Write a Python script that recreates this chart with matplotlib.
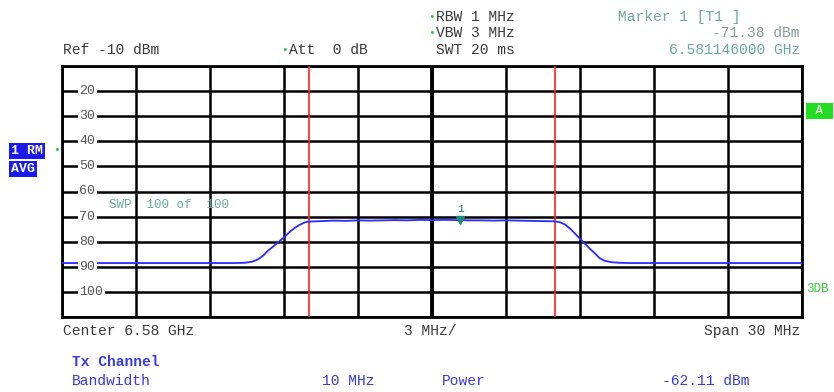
import matplotlib
matplotlib.use("Agg")
import matplotlib.pyplot as plt
import numpy as np

# ---- data ----
freq_offset_mhz = [-15, -8.0, -7.6, -7.3, -7.05, -6.85, -6.65, -6.4, -6.16, -5.95, -5.76, -5.55, -5.35, -5.15, -5.03,
                   -4.5, -4.0, -3.5, -3.0, -2.5, -2.0, -1.5, -1.0, -0.5, 0.0, 0.5, 1.0, 1.146, 1.5, 2.0, 2.5, 3.0,
                   3.5, 4.0, 4.5, 5.0, 5.2, 5.4, 5.6, 5.8, 6.0, 6.2, 6.4, 6.6, 6.8, 7.0, 7.3, 7.6, 8.0, 15]
level_dbm = [-88.5, -88.5, -88.4, -88.0, -87.0, -85.6, -83.6, -81.6, -79.6, -77.8, -76.0, -74.4, -73.2, -72.3, -72.0,
             -71.8, -71.6, -71.7, -71.5, -71.6, -71.5, -71.4, -71.5, -71.3, -71.4, -71.3, -71.4, -71.38, -71.5, -71.5, -71.6, -71.5,
             -71.6, -71.7, -71.8, -71.9, -72.3, -73.2, -74.8, -76.8, -78.8, -80.8, -82.8, -84.6, -86.6, -87.6, -88.2, -88.4, -88.5, -88.5]
marker_freq = 1.146
marker_level = -71.38
channel_edges = [-5.0, 5.0]
y_ticks = [-20, -30, -40, -50, -60, -70, -80, -90, -100]

W, H = 834, 392
fig = plt.figure(figsize=(W / 100, H / 100), dpi=100)
fig.patch.set_facecolor("white")

L, R, T, B = 62, 802, 66, 317
ax = fig.add_axes([L / W, 1 - B / H, (R - L) / W, (B - T) / H])
ax.set_xlim(-15, 15)
ax.set_ylim(-110, -10)
ax.set_xticks(np.arange(-15, 16, 3))
ax.set_yticks(np.arange(-110, -9, 10))
ax.grid(True, color="black", linewidth=1.8)
ax.tick_params(length=0, labelbottom=False, labelleft=False)
for s in ax.spines.values():
    s.set_linewidth(2)
    s.set_color("black")
ax.axvline(0, color="black", linewidth=2.8)

for e in channel_edges:
    ax.axvline(e, color="#ff2020", linewidth=1.2, zorder=3)

ax.plot(freq_offset_mhz, level_dbm, color="#2a2aff", linewidth=1.3, zorder=4)
ax.plot([marker_freq], [marker_level], marker="v", color="#1f8a78", markersize=6, zorder=5)
ax.text(marker_freq, marker_level + 2.5, "1", color="#2a6a60", fontsize=8, ha="center", va="bottom",
        family="Liberation Mono", zorder=5)

# tick labels: the grid line stub on the left acts as the minus sign
for v in y_ticks:
    ax.text(-14.3, v, str(abs(v)), fontsize=9.5, family="Liberation Mono", color="#555555",
            ha="left", va="center", zorder=5,
            bbox=dict(facecolor="white", edgecolor="none", pad=1.2))

ax.text(-13.1, -65.3, "SWP  100 of  100", fontsize=9, family="Liberation Mono", color="#6aac9e",
        ha="left", va="center", zorder=5)

mono = "Liberation Mono"
def t(x, y, s, **kw):
    kw.setdefault("fontsize", 10.5)
    kw.setdefault("family", mono)
    kw.setdefault("color", "#3a3a3a")
    kw.setdefault("va", "center")
    fig.text(x / W, 1 - y / H, s, **kw)

t(63, 50, "Ref -10 dBm")
t(281, 50, "•", color="#22cc44", fontsize=8)
t(289, 50, "Att  0 dB")
t(428, 17, "•", color="#22cc44", fontsize=8)
t(436, 17, "RBW 1 MHz")
t(428, 33, "•", color="#22cc44", fontsize=8)
t(436, 33, "VBW 3 MHz")
t(436, 50, "SWT 20 ms")
t(618, 17, "Marker 1 [T1 ]", color="#6aac9e")
t(800, 33, "-71.38 dBm", color="#8a9a9a", ha="right")
t(800, 50, "6.581146000 GHz", color="#6aac9e", ha="right")

t(63, 331, "Center 6.58 GHz")
t(404, 331, "3 MHz/")
t(800, 331, "Span 30 MHz", ha="right")

blue = "#3a3ae0"
t(72, 362, "Tx Channel", color=blue, fontweight="bold")
t(72, 381, "Bandwidth", color=blue)
t(322, 381, "10 MHz", color=blue)
t(442, 381, "Power", color=blue)
t(750, 381, "-62.11 dBm", color=blue, ha="right")

t(11, 151, "1 RM", color="white", fontweight="bold", fontsize=9.5,
  bbox=dict(facecolor="#1a1aee", edgecolor="none", pad=1.5))
t(11, 169, "AVG", color="white", fontweight="bold", fontsize=9.5,
  bbox=dict(facecolor="#1a1aee", edgecolor="none", pad=1.5))
t(53, 150, "•", color="#22cc44", fontsize=8)
t(808, 111, " A ", color="white", fontsize=9,
  bbox=dict(facecolor="#22dd22", edgecolor="none", pad=1.5))
t(806, 289, "3DB", color="#33cc33", fontsize=9)

fig.savefig("out.png", dpi=100)
